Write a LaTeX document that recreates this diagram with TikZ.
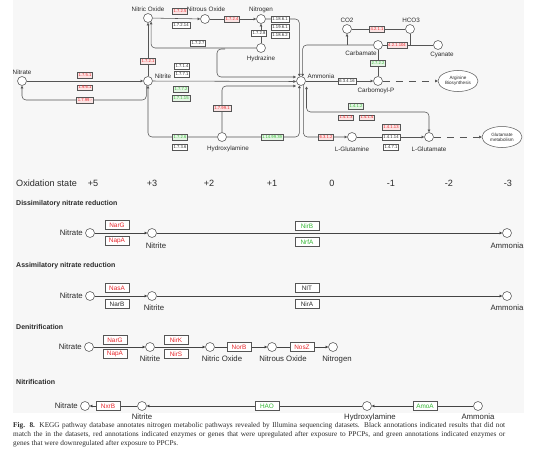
\documentclass[tikz,border=0pt]{standalone}
\usepackage{fontspec}
\setmainfont{Liberation Serif}
\newfontfamily\arialf{Liberation Sans}
\usetikzlibrary{arrows.meta,shapes.geometric,calc}
\definecolor{kred}{HTML}{E8262B}
\definecolor{kgreen}{HTML}{35B835}
\definecolor{linec}{HTML}{555555}
\definecolor{linel}{HTML}{444444}
\definecolor{pinkf}{HTML}{FBE4E4}
\definecolor{greenf}{HTML}{E4F5E4}
\definecolor{bgc}{HTML}{F7F7F7}
\definecolor{txt}{HTML}{2A2A2A}
\begin{document}
\begin{tikzpicture}[x=1pt,y=-1pt,
 ln/.style={draw=linec,line width=0.55pt},
 lnb/.style={draw=linel,line width=0.6pt},
 arr/.style={-{Triangle[length=2.6pt,width=2.6pt]}},
 darr/.style={{Triangle[length=2.6pt,width=2.6pt]}-{Triangle[length=2.6pt,width=2.6pt]}},
 dsh/.style={dash pattern=on 7pt off 6pt},
 met/.style={circle,draw=linec,fill=white,line width=0.55pt,minimum size=9pt,inner sep=0pt},
 mlab/.style={font=\arialf\fontsize{6.3}{7}\selectfont,text=txt,inner sep=0pt},
 lbl/.style={font=\arialf\fontsize{7.8}{9}\selectfont,text=txt,inner sep=0pt},
 hd/.style={font=\arialf\bfseries\fontsize{7}{8}\selectfont,text=txt,anchor=west,inner sep=0pt},
 ox/.style={font=\arialf\fontsize{9.1}{10}\selectfont,text=txt,inner sep=0pt},
 gb/.style={draw=linec,fill=white,line width=0.5pt,font=\arialf\fontsize{6.4}{7}\selectfont,minimum width=24pt,minimum height=8.7pt,inner sep=0pt},
 gbr/.style={gb,text=kred}, gbg/.style={gb,text=kgreen}, gbk/.style={gb,text=txt},
 ec/.style={draw=linec,line width=0.4pt,font=\arialf\fontsize{4.2}{4.5}\selectfont,inner xsep=1.2pt,inner ysep=0pt,minimum height=5.6pt,fill=white},
 ecr/.style={ec,text=kred,fill=pinkf}, ecg/.style={ec,text=kgreen,fill=greenf}, eck/.style={ec,text=txt},
 pw/.style={ellipse,draw=linec,fill=white,line width=0.5pt,font=\arialf\fontsize{4.6}{5.2}\selectfont,align=center,minimum width=40pt,minimum height=21pt,inner sep=0pt,text=txt}
]
\useasboundingbox (0,0) rectangle (554,452);
\fill[white] (0,0) rectangle (554,452);
\fill[bgc] (13,0) rectangle (524,413);

% ---------------- KEGG map ----------------
\node[met] (tNa) at (22,81) {};
\node[mlab] (ltNa) at (22,72.5) {Nitrate};
\node[met] (tNi) at (148,81) {};
\node[mlab] (ltNi) at (163,76.5) {Nitrite};
\node[met] (tNO) at (148,18) {};
\node[mlab] (ltNO) at (148,9.5) {Nitric Oxide};
\node[met] (tN2O) at (205,19) {};
\node[mlab] (ltN2O) at (206,9.5) {Nitrous Oxide};
\node[met] (tN2) at (261,19) {};
\node[mlab] (ltN2) at (261,9.5) {Nitrogen};
\node[met] (tHz) at (261,48) {};
\node[mlab] (ltHz) at (261,59) {Hydrazine};
\node[met] (tNH) at (301,81) {};
\node[mlab] (ltNH) at (321,76) {Ammonia};
\node[met] (tHA) at (222,137) {};
\node[mlab] (ltHA) at (228,149) {Hydroxylamine};
\node[met] (tGln) at (352,137) {};
\node[mlab] (ltGln) at (352,149) {L-Glutamine};
\node[met] (tGlu) at (429,137) {};
\node[mlab] (ltGlu) at (429,149) {L-Glutamate};
\node[met] (tCO2) at (347,29) {};
\node[mlab] (ltCO2) at (347,20) {CO2};
\node[met] (tHCO) at (410,29) {};
\node[mlab] (ltHCO) at (411,20) {HCO3};
\node[met] (tCarb) at (378,45) {};
\node[mlab] (ltCarb) at (361,53) {Carbamate};
\node[met] (tCyan) at (438,45) {};
\node[mlab] (ltCyan) at (442,55) {Cyanate};
\node[met] (tCP) at (378,81) {};
\node[mlab] (ltCP) at (376,91) {Carbomoyl-P};
\node[pw] (tArg) at (458,81) {Arginine\\Biosynthesis};
\node[pw] (tGm) at (502,137) {Glutamate\\metabolism};

\coordinate (nhW1) at (296,77);
\coordinate (nhW2) at (296,81.5);
\coordinate (nhW3) at (296,86);
\coordinate (nhS3) at (306.5,86.5);
\coordinate (hzb) at (225,49);
\coordinate (co2b) at (347,45);
\coordinate (hcob) at (410,45);

% edges
\draw[ln,arr] (tNa) -- (tNi);
\draw[ln,arr,rounded corners=4pt] (tNi.-110) |- (22,100) -- (tNa.south);
\draw[ln,arr] (tNi) -- (tNO);
\draw[ln,arr,rounded corners=4pt] (tHz.west) -| (tNO.-50);
\draw[ln,arr] (tNO) -- (tN2O);
\draw[ln,arr] (tN2O) -- (tN2);
\draw[ln,arr] (tHz) -- (tN2);
\draw[ln,arr,rounded corners=4pt] (tN2) -| (tNH.110);
\draw[ln,arr,rounded corners=4pt] (hzb) -- (217,49) -- (217,77) -- (nhW1);
\draw[ln,arr] (tNi) -- (nhW2);
\draw[ln,arr,rounded corners=4pt] (tHA) -- (222,86) -- (nhW3);
\draw[ln,arr,rounded corners=4pt] (tHA) -- (148,137) -- (tNi);
\draw[ln,arr,rounded corners=4pt] (tHA) -| (tNH.-110);
\draw[ln,arr,rounded corners=4pt] (tNH.-60) |- (tGln);
\draw[ln,darr,rounded corners=4pt] (nhS3) -- (306.5,112) -- (429,112) -- (tGlu);
\draw[ln,arr] (tGln) -- (tGlu);
\draw[ln,arr,dsh] (tGlu) -- (tGm);
\draw[ln,arr] (tNH) -- (tCP);
\draw[ln,arr,dsh] (tCP) -- (tArg);
\draw[ln] (tCarb) -- (tCP);
\draw[ln,arr,rounded corners=4pt] (tCarb) -| (tNH.70);
\draw[ln,arr] (co2b) -- (tCO2);
\draw[ln] (tCO2) -- (tHCO);
\draw[ln] (tHCO) -- (hcob);
\draw[ln] (tCarb) -- (tCyan);

% EC labels
\node[ecr] (e1) at (85,75) {1.7.5.1};
\node[ecr] (e2) at (85,87.5) {1.9.6.1};
\node[ecr] (e3) at (85,100) {1.7.99.-};
\node[ecr] (e4) at (148,61) {1.7.2.1};
\node[ecr] (e5) at (180,11) {1.7.2.5};
\node[eck] (e6) at (181,25) {1.7.2.14};
\node[ecr] (e7) at (232,19) {1.7.2.4};
\node[eck] (e8) at (259,33) {1.7.2.8};
\node[eck] (e9) at (280,19) {1.18.6.1};
\node[eck] (e10) at (280,27) {1.19.6.1};
\node[eck] (e11) at (280,35) {1.18.6.2};
\node[eck] (e12) at (198,43.5) {1.7.2.7};
\node[eck] (e13) at (182,66) {1.7.1.4};
\node[eck] (e14) at (182,74) {1.7.7.1};
\node[ecg] (e15) at (181,89) {1.7.7.2};
\node[ecg] (e16) at (181,98) {1.7.1.15};
\node[ecr] (e17) at (222,108) {1.7.99.1};
\node[ecg] (e18) at (180,137) {1.7.2.6};
\node[eck] (e19) at (180,147) {1.7.3.6};
\node[ecg] (e20) at (272,137) {1.14.99.39};
\node[ecr] (e21) at (326,137) {6.3.1.2};
\node[ecg] (e22) at (356,106) {1.4.1.2};
\node[ecr] (e23) at (346,117.5) {1.4.1.3};
\node[ecr] (e24) at (367,117.5) {1.4.1.4};
\node[ecr] (e25) at (391,127) {1.4.1.13};
\node[eck] (e26) at (391,137) {1.4.1.14};
\node[eck] (e27) at (391,147) {1.4.7.1};
\node[eck] (e28) at (347,81) {6.3.4.16};
\node[ecg] (e29) at (378,63) {2.7.2.2};
\node[ecr] (e30) at (377,29) {4.2.1.1};
\node[ecr] (e31) at (397,45) {4.2.1.104};

% ---------------- Oxidation state ----------------
\node[ox,anchor=west] (oxl) at (16,183) {Oxidation state};
\node[ox] (o1) at (93,183) {+5};
\node[ox] (o2) at (152,183) {+3};
\node[ox] (o3) at (209,183) {+2};
\node[ox] (o4) at (272,183) {+1};
\node[ox] (o5) at (332,183) {0};
\node[ox] (o6) at (391,183) {-1};
\node[ox] (o7) at (449,183) {-2};
\node[ox] (o8) at (508,183) {-3};

% ---------------- Dissimilatory ----------------
\node[hd] (h1) at (16,204) {Dissimilatory nitrate reduction};
\node[met] (dNa) at (90,233) {};
\node[lbl,anchor=east] (ldNa) at (83,233) {Nitrate};
\node[met] (dNi) at (152,233) {};
\node[lbl] (ldNi) at (156,246) {Nitrite};
\node[met] (dNH) at (507,233) {};
\node[lbl] (ldNH) at (507,246) {Ammonia};
\draw[lnb,arr] (dNa) -- (dNi);
\draw[lnb,arr] (dNi) -- (dNH);
\node[gbr] (g1) at (117,225) {NarG};
\node[gbr] (g2) at (117,241) {NapA};
\node[gbg] (g3) at (307,226) {NirB};
\node[gbg] (g4) at (307,242) {NrfA};

% ---------------- Assimilatory ----------------
\node[hd] (h2) at (16,266) {Assimilatory nitrate reduction};
\node[met] (aNa) at (90,296) {};
\node[lbl,anchor=east] (laNa) at (83,296) {Nitrate};
\node[met] (aNi) at (152,296) {};
\node[lbl] (laNi) at (154,308) {Nitrite};
\node[met] (aNH) at (507,296) {};
\node[lbl] (laNH) at (507,308) {Ammonia};
\draw[lnb,arr] (aNa) -- (aNi);
\draw[lnb,arr] (aNi) -- (aNH);
\node[gbr] (g5) at (117,288) {NasA};
\node[gbk] (g6) at (117,304) {NarB};
\node[gbk] (g7) at (307,288) {NIT};
\node[gbk] (g8) at (307,304) {NirA};

% ---------------- Denitrification ----------------
\node[hd] (h3) at (16,327) {Denitrification};
\node[met] (nNa) at (89,347) {};
\node[lbl,anchor=east] (lnNa) at (82,347) {Nitrate};
\node[met] (nNi) at (150,347) {};
\node[lbl] (lnNi) at (150,359) {Nitrite};
\node[met] (nNO) at (210,347) {};
\node[lbl] (lnNO) at (222,359) {Nitric Oxide};
\node[met] (nN2O) at (272,347) {};
\node[lbl] (lnN2O) at (283,359) {Nitrous Oxide};
\node[met] (nN2) at (333,347) {};
\node[lbl] (lnN2) at (337,359) {Nitrogen};
\draw[lnb,arr] (nNa) -- (nNi);
\draw[lnb,arr] (nNi) -- (nNO);
\draw[lnb,arr] (nNO) -- (nN2O);
\draw[lnb,arr] (nN2O) -- (nN2);
\node[gbr] (g9) at (115,340) {NarG};
\node[gbr] (g10) at (115,354) {NapA};
\node[gbr] (g11) at (176,340) {NirK};
\node[gbr] (g12) at (176,354) {NirS};
\node[gbr] (g13) at (239,347) {NorB};
\node[gbr] (g14) at (302,347) {NosZ};

% ---------------- Nitrification ----------------
\node[hd] (h4) at (16,382) {Nitrification};
\node[met] (fNa) at (85,406) {};
\node[lbl,anchor=east] (lfNa) at (78,406) {Nitrate};
\node[met] (fNi) at (142,406) {};
\node[lbl] (lfNi) at (142,417) {Nitrite};
\node[met] (fHA) at (367,406) {};
\node[lbl] (lfHA) at (370,417) {Hydroxylamine};
\node[met] (fNH) at (478,406) {};
\node[lbl] (lfNH) at (478,417) {Ammonia};
\draw[lnb,arr] (fNi) -- (fNa);
\draw[lnb,arr] (fHA) -- (fNi);
\draw[lnb,arr] (fNH) -- (fHA);
\node[gbr] (g15) at (108,406) {NxrB};
\node[gbg] (g16) at (267,406) {HAO};
\node[gbg] (g17) at (425,406) {AmoA};

% ---------------- Caption ----------------
\node[anchor=north west,inner sep=0pt,text width=492pt,align=justify,font=\fontsize{7.3}{9}\selectfont,text=txt] (cap) at (13,422.5)
{\textbf{Fig. 8.} KEGG pathway database annotates nitrogen metabolic pathways revealed by Illumina sequencing datasets. Black annotations indicated results that did not\linebreak
match the in the datasets, red annotations indicated enzymes or genes that were upregulated after exposure to PPCPs, and green annotations indicated enzymes or\linebreak
genes that were downregulated after exposure to PPCPs.};
\end{tikzpicture}
\end{document}
